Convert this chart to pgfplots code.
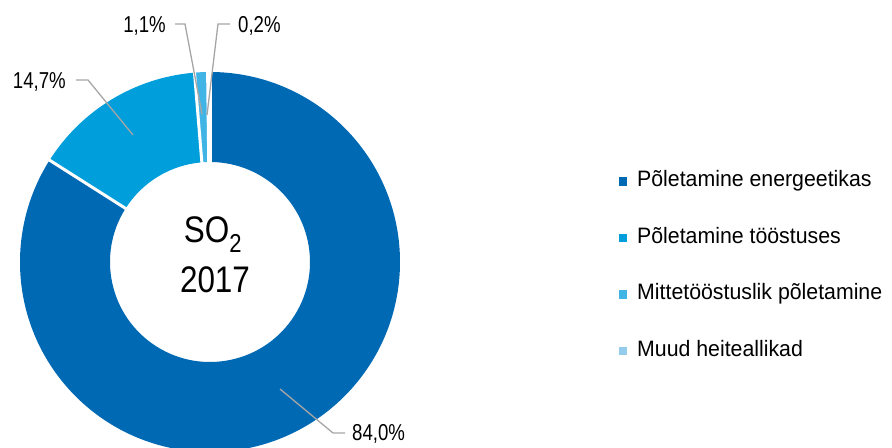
\documentclass[border=0pt]{standalone}
\usepackage{pgfplots}
\pgfplotsset{compat=1.18}
\usepackage{pgfplotstable}
\usepackage{fontspec}
\setmainfont{Liberation Sans}
\newfontfamily\condfont{Liberation Sans}[FakeStretch=0.85]
\newfontfamily\legfont{Liberation Sans}[FakeStretch=0.955]
\newfontfamily\labfont{Liberation Sans}[FakeStretch=0.81]
\definecolor{c1}{HTML}{0069B4}
\definecolor{c2}{HTML}{009EDB}
\definecolor{c3}{HTML}{41B4E6}
\definecolor{c4}{HTML}{94CCEB}
\definecolor{leadc}{HTML}{A6A6A6}

\pgfplotstableread{
value
84.0
14.7
1.1
0.2
}\sotable

\begin{document}
\begin{tikzpicture}
\begin{axis}[x=1bp,y=1bp,xmin=0,xmax=892,ymin=0,ymax=448,hide axis,clip=false,scale only axis]
\pgfplotsextra{
  \begin{scope}[shift={(axis cs:210,186)}]
  \xdef\cum{0}
  \foreach \i/\c in {0/c1,1/c2,2/c3,3/c4}{
    \pgfplotstablegetelem{\i}{value}\of\sotable
    \pgfmathsetmacro\aa{90-3.6*\cum}
    \pgfmathsetmacro\ab{90-3.6*(\cum+\pgfplotsretval)}
    \pgfmathsetmacro\newcum{\cum+\pgfplotsretval}
    \xdef\cum{\newcum}
    \fill[\c] (\aa:190bp) arc[start angle=\aa, end angle=\ab, radius=190bp]
      -- (\ab:100bp) arc[start angle=\ab, end angle=\aa, radius=100bp] -- cycle;
  }
  \xdef\cum{0}
  \foreach \i in {0,...,3}{
    \pgfplotstablegetelem{\i}{value}\of\sotable
    \pgfmathsetmacro\aa{90-3.6*\cum}
    \pgfmathsetmacro\newcum{\cum+\pgfplotsretval}
    \xdef\cum{\newcum}
    \draw[white, line width=3bp] (\aa:95bp) -- (\aa:195bp);
  }
  \end{scope}
}
% leader lines
\addplot[leadc, line width=1.3bp] coordinates {(175,424) (185,424) (202,334)};
\addplot[leadc, line width=1.3bp] coordinates {(230,424) (218,424) (207,333)};
\addplot[leadc, line width=1.3bp] coordinates {(76,368) (88,368) (133,313)};
\addplot[leadc, line width=1.3bp] coordinates {(345,15) (333,15) (280,59)};
% labels
\node[anchor=base east, inner sep=0pt, font=\labfont\fontsize{23bp}{26bp}\selectfont] at (axis cs:166,415) {1,1\%};
\node[anchor=base west, inner sep=0pt, font=\labfont\fontsize{23bp}{26bp}\selectfont] at (axis cs:238,415) {0,2\%};
\node[anchor=base east, inner sep=0pt, font=\labfont\fontsize{23bp}{26bp}\selectfont] at (axis cs:66,359) {14,7\%};
\node[anchor=base west, inner sep=0pt, font=\labfont\fontsize{23bp}{26bp}\selectfont] at (axis cs:352,7) {84,0\%};
% centre
\node[anchor=base, inner sep=0pt, font=\condfont\fontsize{37bp}{40bp}\selectfont] at (axis cs:213,205) {SO\textsubscript{2}};
\node[anchor=base, inner sep=0pt, font=\condfont\fontsize{37bp}{40bp}\selectfont] at (axis cs:215,155) {2017};
% legend
\addplot[only marks, mark=square*, mark size=3.8bp, c1, mark options={draw=none}] coordinates {(622.5,267)};
\addplot[only marks, mark=square*, mark size=3.8bp, c2, mark options={draw=none}] coordinates {(622.5,210.5)};
\addplot[only marks, mark=square*, mark size=3.8bp, c3, mark options={draw=none}] coordinates {(622.5,154)};
\addplot[only marks, mark=square*, mark size=3.8bp, c4, mark options={draw=none}] coordinates {(622.5,97.5)};
\node[anchor=base west, inner sep=0pt, font=\legfont\fontsize{22.3bp}{25bp}\selectfont] at (axis cs:637,261) {Põletamine energeetikas};
\node[anchor=base west, inner sep=0pt, font=\legfont\fontsize{22.3bp}{25bp}\selectfont] at (axis cs:637,204.5) {Põletamine tööstuses};
\node[anchor=base west, inner sep=0pt, font=\legfont\fontsize{22.3bp}{25bp}\selectfont] at (axis cs:637,148) {Mittetööstuslik põletamine};
\node[anchor=base west, inner sep=0pt, font=\legfont\fontsize{22.3bp}{25bp}\selectfont] at (axis cs:637,91.5) {Muud heiteallikad};
\end{axis}
\pgfresetboundingbox
\path (0,0) rectangle (892bp,448bp);
\end{tikzpicture}
\end{document}
